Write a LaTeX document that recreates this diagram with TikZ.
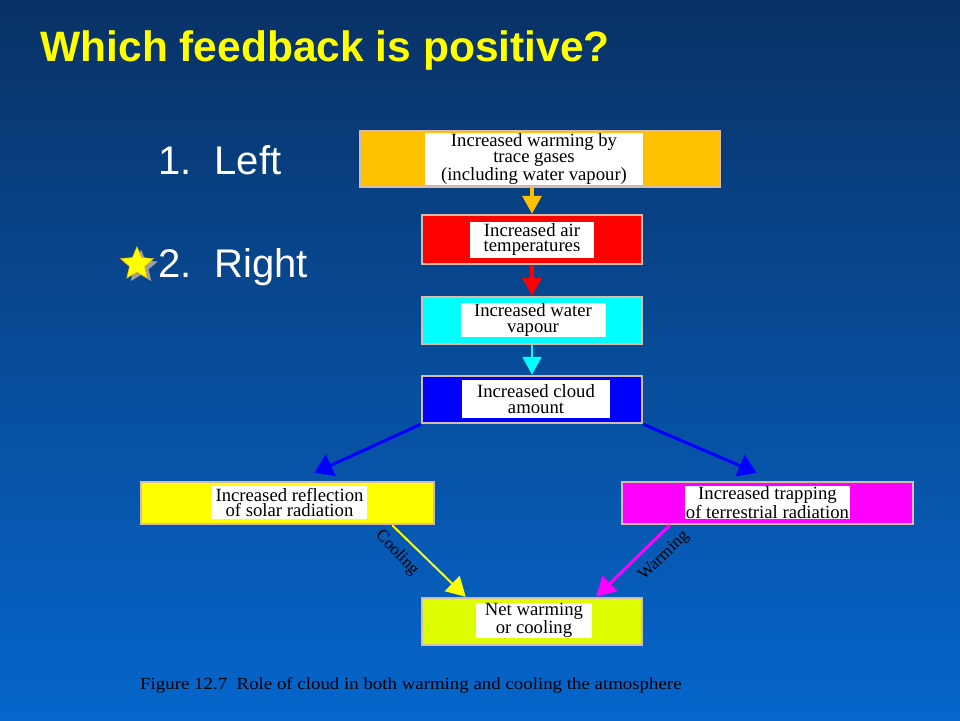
\documentclass[tikz,border=0pt]{standalone}
\usepackage{fontspec}
\setmainfont{Liberation Serif}
\newfontfamily\arialfont{Liberation Sans}
\usetikzlibrary{arrows.meta, shapes.geometric}

\definecolor{slidetop}{RGB}{9,50,102}
\definecolor{slidebottom}{RGB}{6,102,204}
\definecolor{titleyellow}{RGB}{255,255,0}
\definecolor{boxedge}{RGB}{214,186,172}
\definecolor{boxorange}{RGB}{255,192,0}
\definecolor{boxred}{RGB}{255,0,0}
\definecolor{boxcyan}{RGB}{0,255,255}
\definecolor{boxblue}{RGB}{0,0,255}
\definecolor{boxyellow}{RGB}{255,255,0}
\definecolor{boxmagenta}{RGB}{255,0,255}
\definecolor{boxlime}{RGB}{221,255,0}
\newcommand{\boxfont}{\fontsize{18.7}{15.7}\selectfont}

\begin{document}
\begin{tikzpicture}[x=1pt, y=-1pt,
        outerbox/.style={draw=boxedge, line width=2.5pt, fill=#1, inner sep=0pt},
        txtbox/.style={fill=white, inner sep=0pt, align=center, font=\boxfont},
        feed/.style={draw=#1, line width=3.5pt, -{Triangle[length=18pt, width=19pt]}},
        arrowtxt/.style={font=\fontsize{17}{17}\selectfont, inner sep=0pt}]
            % background
            \shade[top color=slidetop, bottom color=slidebottom] (0, 0) rectangle (960, 720);
            \useasboundingbox (0, 0) rectangle (960, 720);

            % title and answers
            \node[anchor = base west, text = titleyellow, font = \arialfont\bfseries\fontsize{42.5}{50}\selectfont] (title) at (37, 61) {Which feedback is positive?};
            \node[anchor = base west, text = white, font = \arialfont\fontsize{40}{46}\selectfont] (left) at (155, 174) {\makebox[56pt][l]{1.}Left};
            \node[anchor = base west, text = white, font = \arialfont\fontsize{40}{46}\selectfont] (right) at (155, 277) {\makebox[56pt][l]{2.}Right};
            \node[star, star points = 5, star point ratio = 2.2, fill = gray!75, minimum size = 35pt, inner sep = 0pt] (starshadow) at (141, 267) {};
            \node[star, star points = 5, star point ratio = 2.2, fill = titleyellow, draw = orange!70!yellow, minimum size = 35pt, inner sep = 0pt] (star) at (137, 264) {};

            % boxes
            \node[outerbox = boxorange, minimum width = 360, minimum height = 56] (warm) at (540, 159) {};
            \node[txtbox, minimum width = 218, minimum height = 52] (warmtxt) at (534, 159) {Increased warming by\\trace gases\\(including water vapour)};

            \node[outerbox = boxred, minimum width = 220, minimum height = 49] (air) at (532, 239.5) {};
            \node[txtbox, minimum width = 124, minimum height = 36] (airtxt) at (air) {Increased air\\temperatures};

            \node[outerbox = boxcyan, minimum width = 220, minimum height = 47] (vap) at (532, 320.5) {};
            \node[txtbox, minimum width = 145, minimum height = 34] (vaptxt) at (533, 320) {Increased water\\vapour};

            \node[outerbox = boxblue, minimum width = 220, minimum height = 47] (cloud) at (532, 399.5) {};
            \node[txtbox, minimum width = 148, minimum height = 38] (cloudtxt) at (536, 399) {Increased cloud\\amount};

            \node[outerbox = boxyellow, minimum width = 293, minimum height = 42] (refl) at (287.5, 503) {};
            \node[txtbox, minimum width = 155, minimum height = 33] (refltxt) at (289.5, 502.5) {Increased reflection\\of solar radiation};

            \node[outerbox = boxmagenta, minimum width = 291, minimum height = 42] (trap) at (767.5, 503) {};
            \node[txtbox, minimum width = 165, minimum height = 33] (traptxt) at (767.5, 502.5) {Increased trapping\\of terrestrial radiation};

            \node[outerbox = boxlime, minimum width = 220, minimum height = 47] (net) at (532, 621.5) {};
            \node[txtbox, minimum width = 116, minimum height = 35] (nettxt) at (534, 620.5) {Net warming\\or cooling};

            % arrows
            \draw[feed = boxorange] (warm.south -| air.north) -- (air.north);
            \draw[feed = boxred] (air) -- (vap);
            \draw[feed = boxcyan, line width = 2pt] (vap) -- (cloud);
            \draw[feed = boxblue, line width = 3pt, -{Triangle[length=18pt, width=23pt]}] (cloud.south west) -- ([xshift = 27pt, yshift = 8pt]refl.north);
            \draw[feed = boxblue, line width = 3pt, -{Triangle[length=18pt, width=23pt]}] (cloud.south east) -- ([xshift = -11pt, yshift = 8pt]trap.north);
            \draw[feed = boxyellow, line width = 2pt, -{Triangle[length=19pt, width=21pt]}] ([xshift = -43pt]refl.south east) -- ([xshift = 45pt]net.north west);
            \draw[feed = boxmagenta, line width = 3pt, -{Triangle[length=19pt, width=21pt]}] ([xshift = 49pt]trap.south west) -- ([xshift = -47pt]net.north east);
            \node[arrowtxt, rotate = -47] (coollbl) at (397, 553) {Cooling};
            \node[arrowtxt, rotate = 44] (warmlbl) at (664, 556) {Warming};

            % caption
            \node[anchor = base west, font = \fontsize{17}{17}\selectfont, xscale = 1.11, inner sep = 0pt] (caption) at (140, 689) {Figure 12.7\enspace Role of cloud in both warming and cooling the atmosphere};
\end{tikzpicture}
\end{document}
